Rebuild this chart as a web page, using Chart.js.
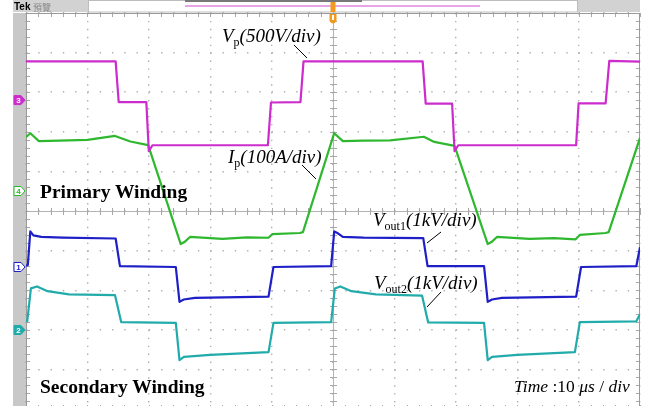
<!DOCTYPE html>
<html><head><meta charset="utf-8">
<script src="https://cdn.jsdelivr.net/npm/chart.js@4.4.1/dist/chart.umd.min.js"></script>
<style>
html,body{margin:0;padding:0;background:#fff;overflow:hidden;width:648px;height:406px;}
#wrap{position:relative;width:648px;height:416px;}
canvas{position:absolute;left:0;top:0;}
.lbl{position:absolute;white-space:nowrap;font-family:"Liberation Serif","Times New Roman",serif;color:#000;line-height:1;}
.it{font-style:italic}
.up{font-style:normal}
.b{font-weight:bold}
.sub{font-style:normal;font-size:12px;position:relative;top:4px;}
.hdr{position:absolute;white-space:nowrap;line-height:1;}
</style></head>
<body>
<div id="wrap">
<canvas id="c" width="648" height="416"></canvas>
<div class="hdr" style="left:14px;top:1px;font:bold 10px 'Liberation Sans',Arial,sans-serif;color:#000;">Tek</div>
<div class="hdr" style="left:33px;top:1px;font:9px 'Noto Sans CJK TC',sans-serif;color:#8a8a8a;">預覽</div>
<div class="lbl it" style="left:222px;top:26px;font-size:19px;">V<span class="sub">p</span>(500V/div)</div>
<div class="lbl it" style="left:228px;top:147px;font-size:19px;">I<span class="sub">p</span>(100A/div)</div>
<div class="lbl b" style="left:40px;top:182px;font-size:19.5px;">Primary Winding</div>
<div class="lbl it" style="left:373px;top:210px;font-size:19px;">V<span class="sub">out1</span>(1kV/div)</div>
<div class="lbl it" style="left:374px;top:273px;font-size:19px;">V<span class="sub">out2</span>(1kV/div)</div>
<div class="lbl b" style="left:40px;top:377px;font-size:19.5px;">Secondary Winding</div>
<div class="lbl" style="left:514px;top:378px;font-size:17.5px;"><span class="it">Time</span> :10 <span class="it">μs</span> / <span class="it">div</span></div>
</div>
<script>
// ---- data (time in µs, 10 µs/div) ----
// Ch3: primary voltage Vp (V), 500 V/div
const vpTime  = [-50, -35.4, -34.9, -30.4, -30.0, -29.4, -10.6, -10.1, -5.3, -4.8, 14.6, 15.1, 19.4, 19.8, 20.4, 39.6, 40.0, 44.4, 45.0, 50];
const vpVolts = [490, 490, -25, -25, -645, -570, -568, -30, -25, 490, 490, -45, -45, -645, -570, -568, -40, -40, 495, 485];
// Ch4: primary current Ip (A), 100 A/div
const ipTime = [-50, -49.3, -47.9, -44.6, -40, -35.5, -33, -30.1, -24.8, -24.2, -23.3, -18, -14, -10.5, -9.9, -5.4, -4.9, 0.2, 1.6, 5, 9.3, 14.8, 16.5, 19.8, 25.2, 25.8, 26.7, 32, 36, 39.5, 40.2, 44.4, 44.9, 50];
const ipAmps = [136, 146, 126, 127, 129, 139, 125, 116, -134, -129, -116, -121, -117, -118, -109, -106, -104, 146, 126, 127, 128, 137, 124, 114, -134, -129, -116, -121, -119, -122, -111, -106, -104, 134];
// Ch1: secondary output 1 (kV), 1 kV/div
const vout1Time = [-50, -49.7, -49.3, -48.8, -47.5, -44, -35.4, -34.7, -25.6, -25.0, -24.3, -22.5, -10.5, -9.7, -0.3, 0.2, 0.8, 1.6, 5, 14.7, 15.4, 24.6, 25.2, 25.9, 27.5, 39.6, 40.4, 49.4, 50];
const vout1kV   = [0.03, 0.05, 0.9, 0.8, 0.76, 0.74, 0.72, 0.02, 0.0, -0.88, -0.82, -0.78, -0.75, 0.0, 0.02, 0.9, 0.85, 0.76, 0.74, 0.73, 0.02, 0.02, -0.88, -0.82, -0.78, -0.75, 0.0, 0.02, 0.5];
// Ch2: secondary output 2 (kV), 1 kV/div
const vout2Time = [-50, -49.8, -49.2, -48.2, -46.5, -43, -35.5, -34.5, -25.6, -25.0, -24.3, -20, -10.5, -9.7, -0.3, 0.3, 1.2, 3, 7, 14.5, 15.5, 24.6, 25.2, 25.9, 30, 39.4, 40.2, 49.4, 50];
const vout2kV   = [0.25, 0.22, 1.05, 1.1, 0.98, 0.9, 0.88, 0.2, 0.18, -0.76, -0.68, -0.63, -0.56, 0.18, 0.2, 1.05, 1.1, 0.98, 0.9, 0.87, 0.19, 0.18, -0.76, -0.68, -0.63, -0.56, 0.2, 0.22, 0.4];
// channel settings: ground position (divisions from screen centre) and units per division
const channelGround = [2.80, 0.505, -1.414, -3.005];   // Ch3, Ch4, Ch1, Ch2
const channelPerDiv = [500, 100, 1, 1];
const channelNames  = ['3', '4', '1', '2'];

const colors = {vp:'#cc2ccc', ip:'#2fb82f', v1:'#1f1fc8', v2:'#22abab'};

function chanAxis(i){
  return {type:'linear', display:false,
    min:(-5-channelGround[i])*channelPerDiv[i], max:(5-channelGround[i])*channelPerDiv[i]};
}
function ds(label,t,v,axis,color){
  return {label, data:t.map((x,i)=>({x, y:v[i]})), yAxisID:axis, borderColor:color,
    borderWidth:2.2, pointRadius:0, tension:0, fill:false, borderJoinStyle:'round'};
}

const scopeDecor = {
  id:'scopeDecor',
  beforeDraw(chart){
    const ctx=chart.ctx, a=chart.chartArea;
    ctx.save();
    ctx.fillStyle='#fff'; ctx.fillRect(0,0,chart.width,chart.height);
    ctx.fillStyle='#c8c8c8'; ctx.fillRect(13,a.top,a.left-13,chart.height-a.top);
    ctx.fillStyle='#d2d2d2'; ctx.fillRect(13,0,75,a.top-1);
    ctx.fillRect(578,0,a.right-578,a.top-1);
    ctx.strokeStyle='#bdbdbd'; ctx.lineWidth=1;
    ctx.strokeRect(88.5,0.5,489,a.top-1.5);
    ctx.strokeStyle='#e6a6e6'; ctx.lineWidth=2;
    ctx.beginPath(); ctx.moveTo(185,6); ctx.lineTo(480,6); ctx.stroke();
    ctx.strokeStyle='#777'; ctx.lineWidth=2;
    ctx.beginPath(); ctx.moveTo(185,1); ctx.lineTo(362,1); ctx.stroke();
    ctx.restore();
  },
  beforeDatasetsDraw(chart){
    const ctx=chart.ctx, a=chart.chartArea, xs=chart.scales.x, ys=chart.scales.y;
    const cx=xs.getPixelForValue(0), cy=ys.getPixelForValue(0);
    ctx.save();
    ctx.strokeStyle='#b4b4b4'; ctx.lineWidth=1;
    ctx.beginPath();
    ctx.moveTo(a.left,Math.round(cy)+0.5); ctx.lineTo(a.right,Math.round(cy)+0.5);
    ctx.moveTo(Math.round(cx)+0.5,a.top); ctx.lineTo(Math.round(cx)+0.5,a.bottom);
    ctx.stroke();
    ctx.strokeStyle='#a8a8a8';
    ctx.beginPath();
    for(let t=-50;t<=50.001;t+=2){
      const x=Math.round(xs.getPixelForValue(t))+0.5;
      ctx.moveTo(x,cy-3); ctx.lineTo(x,cy+4);
      ctx.moveTo(x,a.top); ctx.lineTo(x,a.top+4);
      ctx.moveTo(x,a.bottom-4); ctx.lineTo(x,a.bottom);
    }
    for(let v=-5;v<=5.001;v+=0.2){
      const y=Math.round(ys.getPixelForValue(v))+0.5;
      ctx.moveTo(cx-3,y); ctx.lineTo(cx+4,y);
      ctx.moveTo(a.left,y); ctx.lineTo(a.left+4,y);
      ctx.moveTo(a.right-4,y); ctx.lineTo(a.right,y);
    }
    ctx.stroke();
    ctx.strokeStyle='#9a9a9a';
    ctx.strokeRect(a.left+0.5,a.top+0.5,a.right-a.left-1,a.bottom-a.top-1);
    ctx.restore();
  },
  afterDraw(chart){
    const ctx=chart.ctx, xs=chart.scales.x;
    ctx.save();
    ctx.strokeStyle='#000'; ctx.lineWidth=1;
    ctx.beginPath();
    ctx.moveTo(294,45); ctx.lineTo(307,58);
    ctx.moveTo(302,165); ctx.lineTo(316,179);
    ctx.moveTo(441,232); ctx.lineTo(427,243);
    ctx.moveTo(441,292); ctx.lineTo(427,307);
    ctx.stroke();
    const tx=xs.getPixelForValue(0);
    ctx.fillStyle='#f39a1e';
    ctx.fillRect(tx-2.5,2,5,10);
    ctx.beginPath(); ctx.moveTo(tx-3.5,14); ctx.lineTo(tx+3.5,14); ctx.lineTo(tx+3.5,21);
    ctx.quadraticCurveTo(tx,26,tx-3.5,21); ctx.closePath(); ctx.fill();
    ctx.fillStyle='#fff'; ctx.fillRect(tx-1,15,2,5);
    const axes=['yVp','yIp','yV1','yV2'];
    const cols=[colors.vp,colors.ip,colors.v1,colors.v2];
    const filled=[true,false,false,true];
    axes.forEach((id,i)=>{
      const y=chart.scales[id].getPixelForValue(0);
      ctx.beginPath();
      ctx.moveTo(14,y-4.5); ctx.lineTo(21,y-4.5); ctx.lineTo(25,y); ctx.lineTo(21,y+4.5); ctx.lineTo(14,y+4.5); ctx.closePath();
      ctx.fillStyle=filled[i]?cols[i]:'#fff'; ctx.fill();
      ctx.strokeStyle=cols[i]; ctx.lineWidth=1; ctx.stroke();
      ctx.fillStyle=filled[i]?'#fff':cols[i];
      ctx.font='bold 8px "Liberation Sans",Arial,sans-serif';
      ctx.textAlign='center'; ctx.textBaseline='middle';
      ctx.fillText(channelNames[i],18.5,y+0.5);
    });
    ctx.restore();
  }
};

new Chart(document.getElementById('c').getContext('2d'), {
  type:'line',
  data:{datasets:[
    ds('Vp', vpTime, vpVolts, 'yVp', colors.vp),
    ds('Ip', ipTime, ipAmps, 'yIp', colors.ip),
    ds('Vout1', vout1Time, vout1kV, 'yV1', colors.v1),
    ds('Vout2', vout2Time, vout2kV, 'yV2', colors.v2)
  ]},
  options:{
    responsive:false, animation:false, devicePixelRatio:1,
    layout:{padding:{left:26,right:8,top:13,bottom:7}},
    plugins:{legend:{display:false}, tooltip:{enabled:false}},
    scales:{
      x:{type:'linear',min:-50,max:50,
         ticks:{display:false,stepSize:10},
         grid:{color:'#b0b0b0',lineWidth:1.4,drawTicks:false},
         border:{display:false,dash:[1.4,6.52]}},
      y:{type:'linear',min:-5,max:5,
         ticks:{display:false,stepSize:1},
         grid:{color:'#b0b0b0',lineWidth:1.4,drawTicks:false},
         border:{display:false,dash:[1.4,10.88]}},
      yVp:chanAxis(0), yIp:chanAxis(1), yV1:chanAxis(2), yV2:chanAxis(3)
    }
  },
  plugins:[scopeDecor]
});
</script>
</body></html>
